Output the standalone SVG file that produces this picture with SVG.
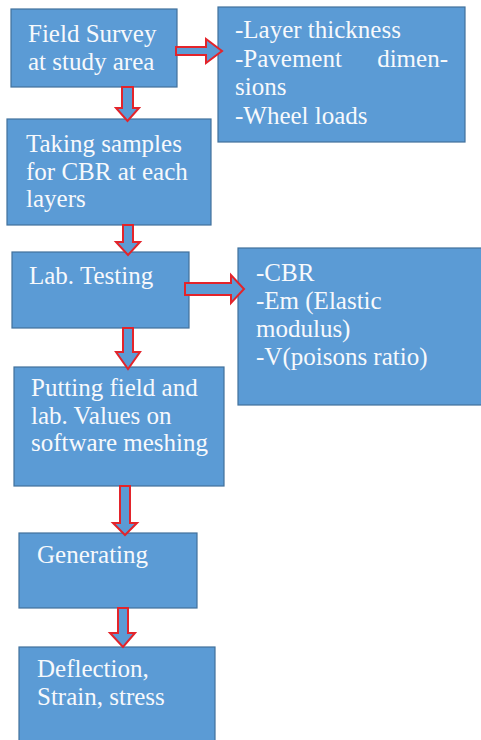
<svg xmlns="http://www.w3.org/2000/svg" width="481" height="740" viewBox="0 0 481 740">
<style>
.box{fill:#5b9bd5;stroke:#41719c;stroke-width:1.2}
.t{font-family:'Liberation Serif','Times New Roman',serif;font-size:25px;fill:#f7f9fc}
.arr{fill:#5b9bd5;stroke:#e3242b;stroke-width:2;stroke-linejoin:miter}
</style>
<rect width="481" height="740" fill="#ffffff"/>
<g id="n1"><rect class="box" x="11" y="9" width="166" height="78"/>
<text class="t" x="28" y="42">Field Survey</text><text class="t" x="28" y="70">at study area</text></g>
<g id="n2"><rect class="box" x="218" y="7" width="247" height="135"/>
<text class="t" x="235" y="38">-Layer thickness</text>
<text class="t" x="235" y="67">-Pavement</text><text class="t" x="448" y="67" text-anchor="end">dimen-</text>
<text class="t" x="235" y="95">sions</text>
<text class="t" x="235" y="124">-Wheel loads</text></g>
<g id="n3"><rect class="box" x="7" y="119" width="204" height="106"/>
<text class="t" x="26" y="152">Taking samples</text><text class="t" x="26" y="180">for CBR at each</text><text class="t" x="26" y="207">layers</text></g>
<g id="n4"><rect class="box" x="12" y="252" width="177" height="76"/>
<text class="t" x="29" y="284">Lab. Testing</text></g>
<g id="n5"><rect class="box" x="238" y="248" width="250" height="157"/>
<text class="t" x="256" y="281">-CBR</text><text class="t" x="256" y="309">-Em (Elastic</text><text class="t" x="256" y="337">modulus)</text><text class="t" x="256" y="365">-V(poisons ratio)</text></g>
<g id="n6"><rect class="box" x="14" y="367" width="210" height="119"/>
<text class="t" x="31" y="396">Putting field and</text><text class="t" x="31" y="424">lab. Values on</text><text class="t" x="31" y="451">software meshing</text></g>
<g id="n7"><rect class="box" x="19" y="533" width="178" height="75"/>
<text class="t" x="37" y="563">Generating</text></g>
<g id="n8"><rect class="box" x="19" y="647" width="196" height="100"/>
<text class="t" x="37" y="677">Deflection,</text><text class="t" x="37" y="705">Strain, stress</text></g>
<g id="connectors">
<path class="arr" d="M176,47 L206,47 L206,39 L222,51 L206,63 L206,55 L176,55 Z"/>
<path class="arr" d="M122,87 L133,87 L133,108 L139,108 L127.5,121 L116,108 L122,108 Z"/>
<path class="arr" d="M123,225 L133,225 L133,242 L140,242 L128,255 L116,242 L123,242 Z"/>
<path class="arr" d="M185,283 L231,283 L231,275 L244,289 L231,303 L231,295 L185,295 Z"/>
<path class="arr" d="M123,328 L133,328 L133,352 L140,352 L128,369 L116,352 L123,352 Z"/>
<path class="arr" d="M120,486 L130,486 L130,523 L137,523 L125,535 L113,523 L120,523 Z"/>
<path class="arr" d="M118,608 L128,608 L128,633 L135,633 L123,647 L110,633 L118,633 Z"/>
</g>
</svg>
